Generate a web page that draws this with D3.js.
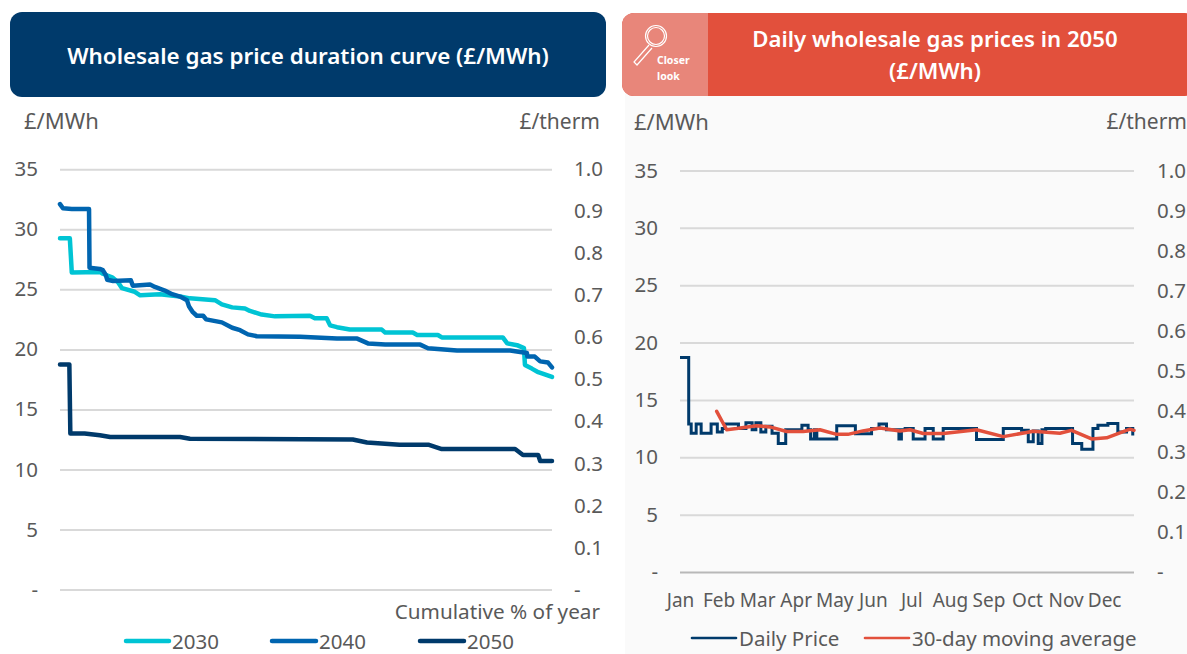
<!DOCTYPE html>
<html>
<head>
<meta charset="utf-8">
<script src="https://cdn.jsdelivr.net/npm/d3@7"></script>
<style>
  body { margin: 0; background: #fff; }
  text { font-family: "Noto Sans", sans-serif; fill: #595959; }
</style>
</head>
<body>
<div id="plot"></div>
<script>
// Values
const pct2030 = [0, 2, 2.4, 8.1, 8.7, 10.6, 11.8, 12.6, 15.2, 16.3, 20.3, 24.4, 26.4, 31.5, 32.9, 35, 37.6, 38.6, 41, 43.7, 50.8, 51.8, 54.2, 54.9, 56.3, 58.9, 65.4, 66.1, 71.7, 72.6, 76.8, 77.6, 90, 90.9, 92.9, 94.3, 94.5, 95.9, 97.2, 100];
const val2030 = [29.25, 29.25, 26.4, 26.45, 26.3, 26, 25.6, 25.1, 24.8, 24.5, 24.6, 24.4, 24.25, 24.1, 23.75, 23.5, 23.4, 23.2, 22.9, 22.75, 22.8, 22.6, 22.6, 22, 21.85, 21.65, 21.65, 21.4, 21.4, 21.2, 21.2, 21, 21, 20.5, 20.35, 20.1, 18.7, 18.4, 18.1, 17.7];

const pct2040 = [0, 0.6, 2.4, 5.9, 6, 8.1, 8.7, 9.3, 9.6, 10.8, 14.4, 14.8, 18.3, 19.3, 21.3, 22.8, 24.4, 25.8, 26.2, 27, 27.8, 29.1, 29.7, 32.9, 35, 36.6, 38.2, 40, 48.8, 56.3, 60.4, 62.6, 66.1, 73.2, 74.8, 80.7, 91.5, 94.9, 95, 96.5, 97.6, 99.2, 100];
const val2040 = [32.1, 31.75, 31.7, 31.7, 26.8, 26.7, 26.6, 26.2, 25.8, 25.7, 25.75, 25.3, 25.4, 25.2, 24.9, 24.6, 24.4, 24.1, 23.6, 23.1, 22.8, 22.8, 22.5, 22.25, 21.8, 21.6, 21.25, 21.1, 21.05, 20.9, 20.9, 20.5, 20.4, 20.4, 20.1, 19.9, 19.9, 19.7, 19.4, 19.4, 19, 18.9, 18.5];

const pct2050 = [0, 1.9, 2.1, 5, 8.1, 10.2, 24.4, 26.4, 59.5, 62.4, 69, 75, 77.6, 92.5, 94.1, 97.2, 97.6, 100];
const val2050 = [18.75, 18.75, 13, 13, 12.85, 12.7, 12.7, 12.55, 12.5, 12.25, 12.05, 12.05, 11.7, 11.7, 11.2, 11.2, 10.7, 10.7];

const months = ["Jan", "Feb", "Mar", "Apr", "May", "Jun", "Jul", "Aug", "Sep", "Oct", "Nov", "Dec"];
const monthDays = [0, 31, 62, 93, 124, 155, 186, 217, 248, 279, 310, 341];

// change points of the daily price, it holds its level until the next day listed
const dailyDay = [0, 7, 9, 13, 17, 25, 30, 34, 36, 47, 53, 58, 61, 65, 69, 74, 79, 85, 98, 103, 105, 108, 110, 126, 141, 154, 160, 166, 176, 178, 181, 187.5, 197, 203.6, 211.6, 238.4, 259.9, 274.6, 280, 284, 288, 291, 294, 315.6, 323, 332, 336, 344, 352, 359, 364];
const dailyPrice = [18.7, 12.9, 12.1, 12.9, 12.1, 12.9, 12.2, 12.5, 12.9, 12.5, 13, 12.4, 13, 12.2, 12.7, 12.1, 11.2, 12.4, 12.8, 12.4, 11.6, 12.4, 11.6, 12.75, 12.05, 12.5, 12.9, 12.4, 11.6, 12.4, 12.5, 11.6, 12.5, 11.6, 12.5, 11.55, 12.5, 12.35, 11.35, 12.3, 11.2, 12.4, 12.5, 11.2, 10.7, 12.5, 12.8, 12.95, 12.2, 12.5, 11.9];

const avgDay = [29.5, 37.5, 45.5, 61.6, 72.3, 85.7, 99, 112.5, 126, 135, 147, 160.8, 176.8, 184.8, 195.6, 211.6, 222.4, 238.4, 259.9, 284, 305.4, 314.8, 330.9, 343, 361.7, 365];
const avgPrice = [14, 12.4, 12.5, 12.75, 12.65, 12.25, 12.25, 12.4, 12, 12, 12.3, 12.55, 12.3, 12.4, 12.07, 12.07, 12.2, 12.4, 11.8, 12.27, 12.1, 12.35, 11.6, 11.7, 12.45, 12.35];

const mwhTicks = [0, 5, 10, 15, 20, 25, 30, 35];
const thermTicks = [0, 0.1, 0.2, 0.3, 0.4, 0.5, 0.6, 0.7, 0.8, 0.9, 1];

const cyan = "#00c4d4", blue = "#0065b0", navy = "#003a6b", red = "#e2503c";

const w = 1187;
const h = 654;

const svg = d3.select("div#plot")
  .append("svg")
    .attr("width", w)
    .attr("height", h)
    .style("display", "block");

// grey background behind the right panel
svg.append("rect")
  .attr("x", 625).attr("y", 90)
  .attr("width", w - 625).attr("height", h - 90)
  .attr("fill", "#fafafa");

// title bars
svg.append("rect")
  .attr("x", 10).attr("y", 12)
  .attr("width", 596).attr("height", 85)
  .attr("rx", 12)
  .attr("fill", navy);

svg.append("text")
  .attr("x", 308).attr("y", 64)
  .attr("text-anchor", "middle")
  .style("font-size", "22.4px")
  .style("font-weight", 600)
  .style("fill", "#fff")
  .text("Wholesale gas price duration curve (£/MWh)");

svg.append("rect")
  .attr("x", 622).attr("y", 13)
  .attr("width", 575).attr("height", 83)
  .attr("rx", 12)
  .attr("fill", red);

svg.append("path")
  .attr("d", "M708,13H634a12,12 0 0 0 -12,12V84a12,12 0 0 0 12,12H708Z")
  .attr("fill", "#e8867a");

svg.selectAll("text.head")
  .data(["Daily wholesale gas prices in 2050", "(£/MWh)"])
  .enter()
  .append("text")
  .attr("x", 935)
  .attr("y", (d, i) => 47 + i * 32)
  .attr("text-anchor", "middle")
  .style("font-size", "22.2px")
  .style("font-weight", 600)
  .style("fill", "#fff")
  .text(d => d);

// magnifier
const glass = svg.append("g")
  .attr("fill", "none")
  .attr("stroke", "#fff")
  .attr("stroke-width", 1.2);
glass.append("circle").attr("cx", 656).attr("cy", 36).attr("r", 10.5);
glass.append("circle").attr("cx", 656).attr("cy", 36).attr("r", 8.5);
glass.append("path").attr("d", "M649,45L634,62L637,65L652,48");

svg.selectAll("text.look")
  .data(["Closer", "look"])
  .enter()
  .append("text")
  .attr("x", 657)
  .attr("y", (d, i) => 64 + i * 16)
  .style("font-size", "10.5px")
  .style("font-weight", 700)
  .style("fill", "#fff")
  .text(d => d);

// draws the gridlines and both value axes of one panel
function drawAxes(left, right, top, bottom, leftX, rightX, baseColor) {
  const yMwh = d3.scaleLinear().domain([0, 35]).range([bottom, top]);
  const yTherm = d3.scaleLinear().domain([0, 1]).range([bottom, top]);

  const grid = svg.append("g")
    .attr("transform", `translate(${left}, 0)`)
    .call(d3.axisLeft(yMwh).tickValues(mwhTicks).tickSize(-(right - left)).tickFormat(""));
  grid.select(".domain").remove();
  grid.selectAll("line")
    .attr("stroke", d => d === 0 ? baseColor : "#d9d9d9")
    .attr("stroke-width", 2);

  const axisL = svg.append("g")
    .attr("transform", `translate(${leftX}, 0)`)
    .call(d3.axisLeft(yMwh).tickValues(mwhTicks).tickSize(0).tickPadding(0)
      .tickFormat(d => d === 0 ? "-" : d));
  const axisR = svg.append("g")
    .attr("transform", `translate(${rightX}, 0)`)
    .call(d3.axisRight(yTherm).tickValues(thermTicks).tickSize(0).tickPadding(0)
      .tickFormat(d => d === 0 ? "-" : d3.format(".1f")(d)));

  [axisL, axisR].forEach(function(a) {
    a.select(".domain").remove();
    a.selectAll("text")
      .style("font-size", "20.5px")
      .style("font-family", '"Noto Sans", sans-serif')
      .style("fill", "#595959");
  });

  return yMwh;
}

function unitLabel(x, y, anchor, size, label) {
  svg.append("text")
    .attr("x", x).attr("y", y)
    .attr("text-anchor", anchor)
    .style("font-size", size + "px")
    .text(label);
}

function legendEntry(x1, x2, y, color, width, label) {
  svg.append("line")
    .attr("x1", x1).attr("x2", x2)
    .attr("y1", y).attr("y2", y)
    .attr("stroke", color)
    .attr("stroke-width", width)
    .attr("stroke-linecap", "round");
  svg.append("text")
    .attr("x", x2 + 3).attr("y", y + 8)
    .style("font-size", "20.5px")
    .text(label);
}

// left panel: duration curve
const yLeft = drawAxes(60, 552, 169.3, 589.5, 38, 574, "#d9d9d9");
const xLeft = d3.scaleLinear().domain([0, 100]).range([60, 552]);

unitLabel(24, 129, "start", 22, "£/MWh");
unitLabel(600, 129, "end", 21, "£/therm");
unitLabel(600, 619, "end", 20.7, "Cumulative % of year");

const curveLine = d3.line()
  .x(d => xLeft(d[0]))
  .y(d => yLeft(d[1]));

[[pct2030, val2030, cyan], [pct2040, val2040, blue], [pct2050, val2050, navy]].forEach(function(s) {
  svg.append("path")
    .datum(s[0].map((p, i) => [p, s[1][i]]))
    .attr("d", curveLine)
    .attr("fill", "none")
    .attr("stroke", s[2])
    .attr("stroke-width", 4.5)
    .attr("stroke-linejoin", "round")
    .attr("stroke-linecap", "round");
});

legendEntry(126, 169, 641, cyan, 4.5, "2030");
legendEntry(272, 316, 641, blue, 4.5, "2040");
legendEntry(420, 464, 641, navy, 4.5, "2050");

// right panel: daily prices
const yRight = drawAxes(680, 1134, 170.5, 572, 658, 1157, "#b8b8b8");
const xRight = d3.scaleLinear().domain([0, 365]).range([680, 1134]);

unitLabel(634, 130, "start", 22, "£/MWh");
unitLabel(1187, 129, "end", 21, "£/therm");

const monthAxis = svg.append("g")
  .attr("transform", "translate(0, 593)")
  .call(d3.axisBottom(xRight).tickValues(monthDays).tickSize(0).tickPadding(0)
    .tickFormat((d, i) => months[i]));
monthAxis.select(".domain").remove();
monthAxis.selectAll("text")
  .style("font-size", "19px")
  .style("font-family", '"Noto Sans", sans-serif')
  .style("fill", "#595959");

svg.append("path")
  .datum(dailyDay.map((p, i) => [p, dailyPrice[i]]))
  .attr("d", d3.line().curve(d3.curveStepAfter).x(d => xRight(d[0])).y(d => yRight(d[1])))
  .attr("fill", "none")
  .attr("stroke", navy)
  .attr("stroke-width", 3);

svg.append("path")
  .datum(avgDay.map((p, i) => [p, avgPrice[i]]))
  .attr("d", d3.line().x(d => xRight(d[0])).y(d => yRight(d[1])))
  .attr("fill", "none")
  .attr("stroke", red)
  .attr("stroke-width", 3.5)
  .attr("stroke-linejoin", "round")
  .attr("stroke-linecap", "round");

legendEntry(692, 736, 638, navy, 2.6, "Daily Price");
legendEntry(865, 909, 638, red, 2.6, "30-day moving average");
</script>
</body>
</html>
